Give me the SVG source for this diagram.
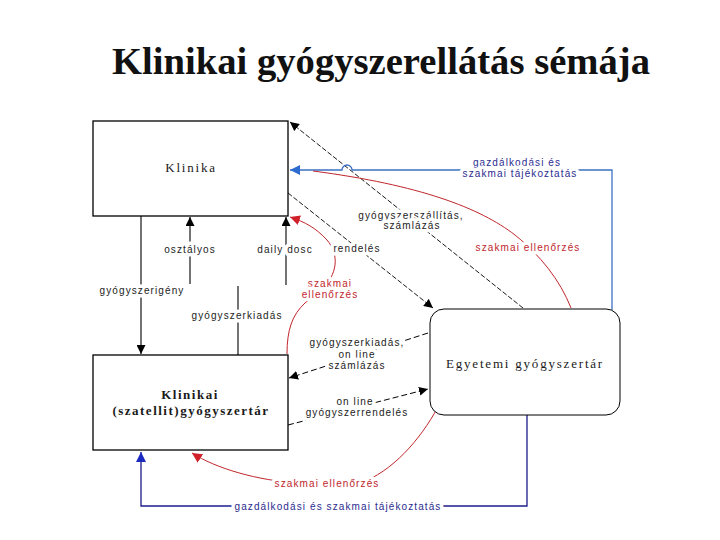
<svg xmlns="http://www.w3.org/2000/svg" width="720" height="540" viewBox="0 0 720 540">
<style>
.box{fill:#fff;stroke:#000;stroke-width:1.3}
.node{font-family:"Liberation Serif","DejaVu Serif",serif;font-size:13px;letter-spacing:1.8px;fill:#1a1a1a;text-anchor:middle}
.lbl{font-family:"Liberation Sans",Arial,sans-serif;font-size:10px;letter-spacing:1.1px;text-anchor:middle;paint-order:stroke;stroke:#fff;stroke-width:7px;stroke-linejoin:round}
.k{fill:#222}
.r{fill:#c0262c}
.b{fill:#2b2b8f}
.solid{fill:none;stroke:#000;stroke-width:1.1}
.dash{fill:none;stroke:#000;stroke-width:0.9;stroke-dasharray:5 2}
.dash2{fill:none;stroke:#000;stroke-width:1;stroke-dasharray:6 3}
.red{fill:none;stroke:#c0262c;stroke-width:1}
.blue{fill:none;stroke:#3c72c4;stroke-width:1.3}
.navy{fill:none;stroke:#1c1c8c;stroke-width:1.3}
</style>
<defs>
<marker id="ak" viewBox="0 0 10 10" refX="10" refY="5" markerWidth="9" markerHeight="9" markerUnits="userSpaceOnUse" orient="auto"><path d="M0,0L10,5L0,10z" fill="#000"/></marker>
<marker id="ar" viewBox="0 0 10 10" refX="10" refY="5" markerWidth="10" markerHeight="10" markerUnits="userSpaceOnUse" orient="auto"><path d="M0,0L10,5L0,10z" fill="#d0202a"/></marker>
<marker id="ab" viewBox="0 0 10 10" refX="10" refY="5" markerWidth="10" markerHeight="10" markerUnits="userSpaceOnUse" orient="auto"><path d="M0,0L10,5L0,10z" fill="#2f6cd0"/></marker>
<marker id="an" viewBox="0 0 10 10" refX="10" refY="5" markerWidth="10" markerHeight="10" markerUnits="userSpaceOnUse" orient="auto"><path d="M0,0L10,5L0,10z" fill="#1c2ac0"/></marker>
</defs>
<rect width="720" height="540" fill="#fff"/>
<text x="381" y="74" font-family="'Liberation Serif','DejaVu Serif',serif" font-weight="bold" font-size="37" text-anchor="middle" textLength="538" lengthAdjust="spacingAndGlyphs" fill="#111">Klinikai gyógyszerellátás sémája</text>

<g id="connectors">
  <line class="solid" x1="141" y1="216" x2="141" y2="354" marker-end="url(#ak)"/>
  <line class="solid" x1="190" y1="284" x2="190" y2="217" marker-end="url(#ak)"/>
  <line class="solid" x1="286" y1="285" x2="286" y2="217" marker-end="url(#ak)"/>
  <line class="solid" x1="238" y1="286" x2="238" y2="355"/>
  <path class="dash" d="M523,308 L290,122" marker-end="url(#ak)"/>
  <path class="dash" d="M288,193 L433,308" marker-end="url(#ak)"/>
  <path class="blue" d="M612,310 L612,170 L352,170 A5,5 0 0 0 342,170 L290,170" marker-end="url(#ab)"/>
  <path class="red" d="M571,308 C560,280 540,255 515,235 C480,208 420,185 313,171"/>
  <path class="red" d="M287,354 C287,330 292,315 305,303 L322,289 C337,275 340,255 327,240 C316,228 305,222 290,217" marker-end="url(#ar)"/>
  <path class="dash2" d="M428,333 L289,378" marker-end="url(#ak)"/>
  <path class="dash2" d="M288,425 L428,389" marker-end="url(#ak)"/>
  <path class="red" d="M438,407 C420,440 392,472 360,483 L300,483 C258,481 215,468 192,453" marker-end="url(#ar)"/>
  <path class="navy" d="M527,415 L527,506 L141,506 L141,452" marker-end="url(#an)"/>
</g>

<g id="klinika">
  <rect class="box" x="93" y="121" width="195" height="95"/>
  <text class="node" x="191" y="172">Klinika</text>
</g>
<g id="szatellit">
  <rect class="box" x="93" y="355" width="195" height="95"/>
  <text class="node" x="190" y="399" font-weight="bold" style="letter-spacing:1.5px">Klinikai</text>
  <text class="node" x="191" y="415" font-weight="bold" style="letter-spacing:1.5px">(szatellit)gyógyszertár</text>
</g>
<g id="egyetemi">
  <rect x="430" y="309" width="190" height="106" rx="14" fill="#fff" stroke="#000" stroke-width="1"/>
  <text class="node" x="525" y="368">Egyetemi gyógyszertár</text>
</g>

<g id="labels">
  <text class="lbl k" x="190" y="253">osztályos</text>
  <text class="lbl k" x="285" y="253">daily dosc</text>
  <text class="lbl k" x="142" y="294">gyógyszerigény</text>
  <text class="lbl k" x="237" y="319">gyógyszerkiadás</text>
  <text class="lbl k" x="357" y="252">rendelés</text>
  <text class="lbl k" x="411" y="219">gyógyszerszállítás,</text>
  <text class="lbl k" x="412" y="229">számlázás</text>
  <text class="lbl b" x="517" y="166">gazdálkodási és</text>
  <text class="lbl b" x="520" y="177">szakmai tájékoztatás</text>
  <text class="lbl r" x="528" y="251">szakmai ellenőrzés</text>
  <text class="lbl r" x="330" y="287">szakmai</text>
  <text class="lbl r" x="330" y="298">ellenőrzés</text>
  <text class="lbl k" x="357" y="346">gyógyszerkiadás,</text>
  <text class="lbl k" x="357" y="358">on line</text>
  <text class="lbl k" x="357" y="369">számlázás</text>
  <text class="lbl k" x="355" y="405">on line</text>
  <text class="lbl k" x="357" y="416">gyógyszerrendelés</text>
  <text class="lbl r" x="327" y="487">szakmai ellenőrzés</text>
  <text class="lbl b" x="338" y="510">gazdálkodási és szakmai tájékoztatás</text>
</g>
</svg>
